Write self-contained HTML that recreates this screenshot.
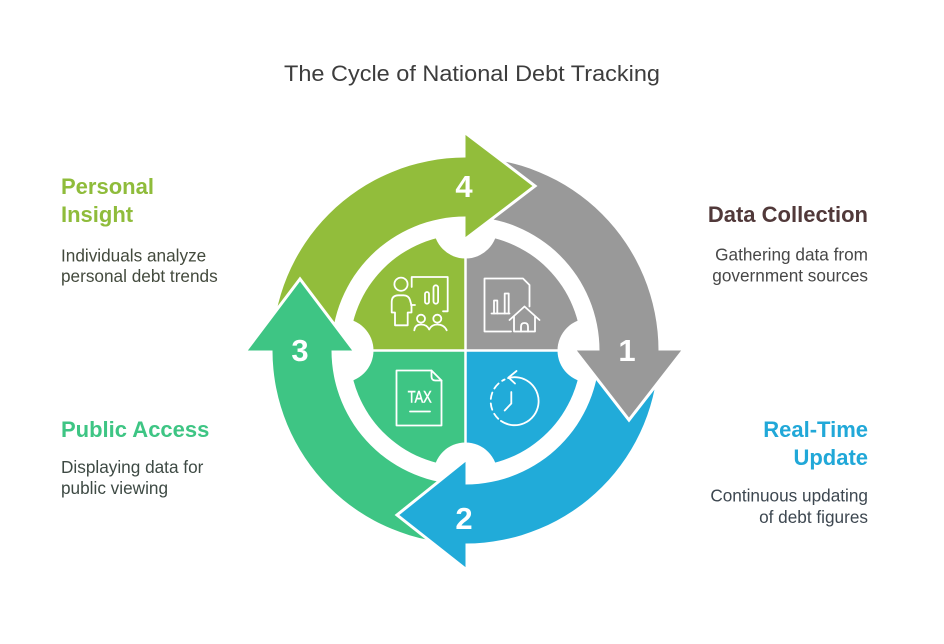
<!DOCTYPE html>
<html>
<head>
<meta charset="utf-8">
<style>
html,body{margin:0;padding:0;background:#ffffff;}
svg{display:block;}
text{font-family:"Liberation Sans",Arial,sans-serif;}
</style>
</head>
<body>
<svg width="944" height="644" viewBox="0 0 944 644" xmlns="http://www.w3.org/2000/svg">
  <rect width="944" height="644" fill="#ffffff"/>

  <!-- Title -->
  <text x="472" y="81" font-size="22.5" fill="#3d3d3d" text-anchor="middle" textLength="376" lengthAdjust="spacingAndGlyphs">The Cycle of National Debt Tracking</text>

  <!-- Inner quadrants -->
  <path d="M465.5 350.5 L349.5 350.5 A116 116 0 0 1 465.5 234.5 Z" fill="#92bd3b"/>
  <path d="M465.5 350.5 L465.5 234.5 A116 116 0 0 1 581.5 350.5 Z" fill="#999999"/>
  <path d="M465.5 350.5 L581.5 350.5 A116 116 0 0 1 465.5 466.5 Z" fill="#21abd9"/>
  <path d="M465.5 350.5 L465.5 466.5 A116 116 0 0 1 349.5 350.5 Z" fill="#3ec584"/>
  <line x1="465.5" y1="230" x2="465.5" y2="470" stroke="#ffffff" stroke-width="2.5"/>
  <line x1="345" y1="350.5" x2="586" y2="350.5" stroke="#ffffff" stroke-width="2.5"/>

  <!-- Notches -->
  <circle cx="465.5" cy="226.5" r="32" fill="#ffffff"/>
  <circle cx="589.5" cy="350.5" r="32" fill="#ffffff"/>
  <circle cx="465.5" cy="474.5" r="32" fill="#ffffff"/>
  <circle cx="341.5" cy="350.5" r="32" fill="#ffffff"/>

  <!-- Arrow bodies -->
  <path d="M272.5 350.5 A193 193 0 0 1 465.5 157.5 L465.5 216.5 A134 134 0 0 0 331.5 350.5 Z" fill="#92bd3b"/>
  <path d="M465.5 157.5 A193 193 0 0 1 658.5 350.5 L599.5 350.5 A134 134 0 0 0 465.5 216.5 Z" fill="#999999"/>
  <path d="M658.5 350.5 A193 193 0 0 1 465.5 543.5 L465.5 484.5 A134 134 0 0 0 599.5 350.5 Z" fill="#21abd9"/>
  <path d="M465.5 543.5 A193 193 0 0 1 272.5 350.5 L331.5 350.5 A134 134 0 0 0 465.5 484.5 Z" fill="#3ec584"/>

  <!-- Arrowheads -->
  <g stroke-linejoin="miter">
    <polygon points="465.5,133 535,186 465.5,239" fill="#92bd3b"/>
    <polyline points="465.5,133 535,186 465.5,239" fill="none" stroke="#ffffff" stroke-width="3"/>

    <polygon points="575,350.5 629,420 683,350.5" fill="#999999"/>
    <polyline points="575,350.5 629,420 683,350.5" fill="none" stroke="#ffffff" stroke-width="3"/>

    <polygon points="465.5,460 397,515 465.5,569" fill="#21abd9"/>
    <polyline points="465.5,460 397,515 465.5,569" fill="none" stroke="#ffffff" stroke-width="3"/>

    <polygon points="246,350.5 300,279 354,350.5" fill="#3ec584"/>
    <polyline points="246,350.5 300,279 354,350.5" fill="none" stroke="#ffffff" stroke-width="3"/>
  </g>

  <!-- Numbers -->
  <g font-size="31" font-weight="bold" fill="#ffffff" text-anchor="middle">
    <text x="464" y="197">4</text>
    <text x="627" y="361">1</text>
    <text x="464" y="529">2</text>
    <text x="300" y="361">3</text>
  </g>

  <!-- Icon: presenter (olive) -->
  <g fill="none" stroke="#ffffff" stroke-width="1.8" stroke-linecap="round" stroke-linejoin="round">
    <circle cx="401" cy="284.2" r="6.6"/>
    <path d="M395 325.3 V312.5 H391.7 V302 Q391.7 295.3 398.5 295.3 H403.5 Q408.5 295.3 410 300 L411.5 305.5 V312.5 H407.7 V325.3 Z"/>
    <path d="M411.7 287 V277 H447.7 V311.3 H443"/>
    <path d="M411 305 H415"/>
    <rect x="425" y="292" width="4" height="11.7" rx="2"/>
    <rect x="433.5" y="285.3" width="4.6" height="18.4" rx="2.3"/>
    <circle cx="421" cy="318.7" r="4"/>
    <circle cx="437.3" cy="318.7" r="4"/>
    <path d="M414.3 330.3 Q415 324.5 421 324.5 Q427 324.5 429.2 329.5 Q431.5 324.5 437.3 324.5 Q444 324.5 446.7 330.3"/>
  </g>

  <!-- Icon: document with chart and house (gray) -->
  <g fill="none" stroke="#ffffff" stroke-width="1.8" stroke-linecap="round" stroke-linejoin="round">
    <path d="M511 331.5 H484.5 V278.5 H523 L529.5 285 V306.5"/>
    <path d="M491.5 313.5 H509.5"/>
    <path d="M494 313.5 V300.5 H497.3 V313.5"/>
    <path d="M504.7 313.5 V293.5 H508.7 V313.5"/>
    <path d="M509.5 320 L524.5 306.5 L539.5 320"/>
    <path d="M514 316.5 V331.5 H535 V316.5"/>
    <path d="M521 331.5 V326.5 Q521 323 524.5 323 Q528 323 528 326.5 V331.5"/>
  </g>

  <!-- Icon: TAX document (green) -->
  <g fill="none" stroke="#ffffff" stroke-width="1.8" stroke-linecap="round" stroke-linejoin="round">
    <path d="M396.5 370.5 H431.5 L441.5 380.5 V425.5 H396.5 Z"/>
    <path d="M431.5 370.5 V376.5 Q431.5 380.5 435.5 380.5 H441.5"/>
    <path d="M410 411.5 H430"/>
  </g>
  <text x="407.7" y="402.7" font-size="16.5" fill="#ffffff" stroke="#ffffff" stroke-width="0.5" textLength="24" lengthAdjust="spacingAndGlyphs">TAX</text>

  <!-- Icon: clock with arrow (blue) -->
  <g fill="none" stroke="#ffffff" stroke-width="1.8" stroke-linecap="round" stroke-linejoin="round">
    <path d="M508.1 378.1 A24 24 0 1 1 500.9 420.9"/>
    <path d="M498.3 418.8 A24 24 0 0 1 504.6 379.5" stroke-dasharray="6.5 4.5"/>
    <path d="M516.5 371 L508.5 377.5 L515 383.5"/>
    <path d="M511.3 392 V403.5 L504.7 410.5"/>
  </g>

  <!-- Left labels -->
  <g font-size="22" font-weight="bold">
    <text x="61" y="194" fill="#8fbc3b">Personal</text>
    <text x="61" y="222" fill="#8fbc3b">Insight</text>
    <text x="61" y="437" fill="#3ec584">Public Access</text>
  </g>
  <g font-size="17.2" fill="#434a3d">
    <text x="61" y="261.5">Individuals analyze</text>
    <text x="61" y="282">personal debt trends</text>
  </g>
  <g font-size="17.2" fill="#3e4a44">
    <text x="61" y="473">Displaying data for</text>
    <text x="61" y="494">public viewing</text>
  </g>

  <!-- Right labels -->
  <g font-size="22" font-weight="bold" text-anchor="end">
    <text x="868" y="222" fill="#51393a">Data Collection</text>
    <text x="868" y="437" fill="#21a8d8">Real-Time</text>
    <text x="868" y="465" fill="#21a8d8">Update</text>
  </g>
  <g font-size="17.2" fill="#474747" text-anchor="end">
    <text x="868" y="260.5">Gathering data from</text>
    <text x="868" y="281.5">government sources</text>
  </g>
  <g font-size="17.2" fill="#3d4750" text-anchor="end">
    <text x="868" y="501.5">Continuous updating</text>
    <text x="868" y="523">of debt figures</text>
  </g>
</svg>
</body>
</html>
